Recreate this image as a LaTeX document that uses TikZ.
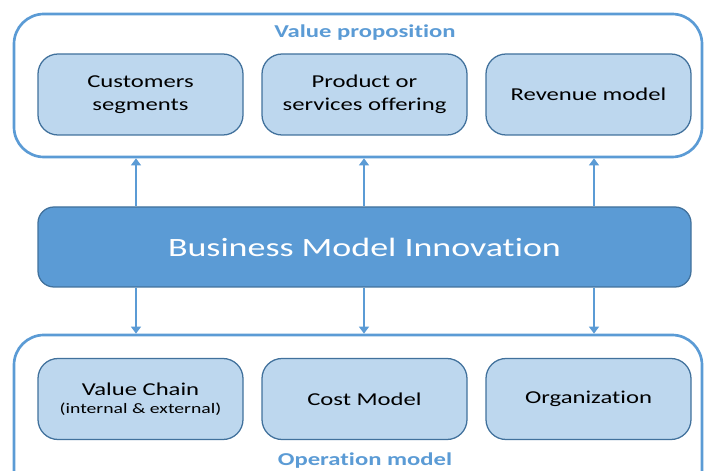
\documentclass[tikz,border=0pt]{standalone}
\usepackage{fontspec}
\setmainfont[FakeStretch=1.36, Ligatures=NoCommon]{Carlito}
\usetikzlibrary{arrows.meta}

\definecolor{frameblue}{HTML}{5B9BD5}
\definecolor{partfill}{HTML}{BDD7EE}
\definecolor{partline}{HTML}{41719C}

\tikzset{
    frame/.style={draw=frameblue, line width=1.9pt, rounded corners=0.75cm,
        minimum width=17.2cm, inner sep=0pt},
    part/.style={draw=partline, fill=partfill, line width=0.9pt, rounded corners=0.5cm,
        minimum width=5.125cm, minimum height=2.025cm, align=center,
        font=\fontsize{12.9}{16.3}\selectfont},
    title/.style={text=frameblue, font=\fontsize{12.9}{15}\selectfont\bfseries, anchor=base},
    link/.style={draw=frameblue, line width=1.8pt, -{Triangle[length=5pt,width=7pt]}}
}

\begin{document}
\begin{tikzpicture}

\clip (0,0) rectangle (17.6,11.775);

% oben: Value proposition
\node[frame, minimum height=3.575cm] (vp) at (8.95,9.6375) {};
\node[title] (vplabel) at (9.125,10.825) {Value proposition};
\node[part] (seg) at (3.5125,9.4125) {Customers\\segments};
\node[part] (offer) at (9.1125,9.4125) {Product or\\services offering};
\node[part] (rev) at (14.7125,9.4125) {Revenue model};

% mitte: Business Model Innovation
\node[draw=partline, fill=frameblue, line width=0.9pt, rounded corners=0.4cm,
    minimum width=16.325cm, minimum height=2cm, text=white,
    font=\fontsize{18.8}{22}\selectfont] (bmi) at (9.1125,5.6) {Business Model Innovation};

% unten: Operation model
\node[frame, minimum height=4.2cm] (om) at (8.95,1.3) {};
\node[title] (omlabel) at (9.125,0.125) {Operation model};
\node[part] (chain) at (3.5125,1.8) {Value Chain\\[-3.6pt]{\fontsize{10.3}{12}\selectfont (internal \& external)}};
\node[part] (cost) at (9.1125,1.8) {Cost Model};
\node[part] (org) at (14.7125,1.8) {Organization};

% pfeile
\coordinate (xa) at (3.4,0);
\coordinate (xb) at (9.1,0);
\coordinate (xc) at (14.85,0);
\foreach \x in {xa,xb,xc} {
    \draw[link] (bmi.north -| \x) -- (vp.south -| \x);
    \draw[link] (bmi.south -| \x) -- (om.north -| \x);
}

\end{tikzpicture}
\end{document}
